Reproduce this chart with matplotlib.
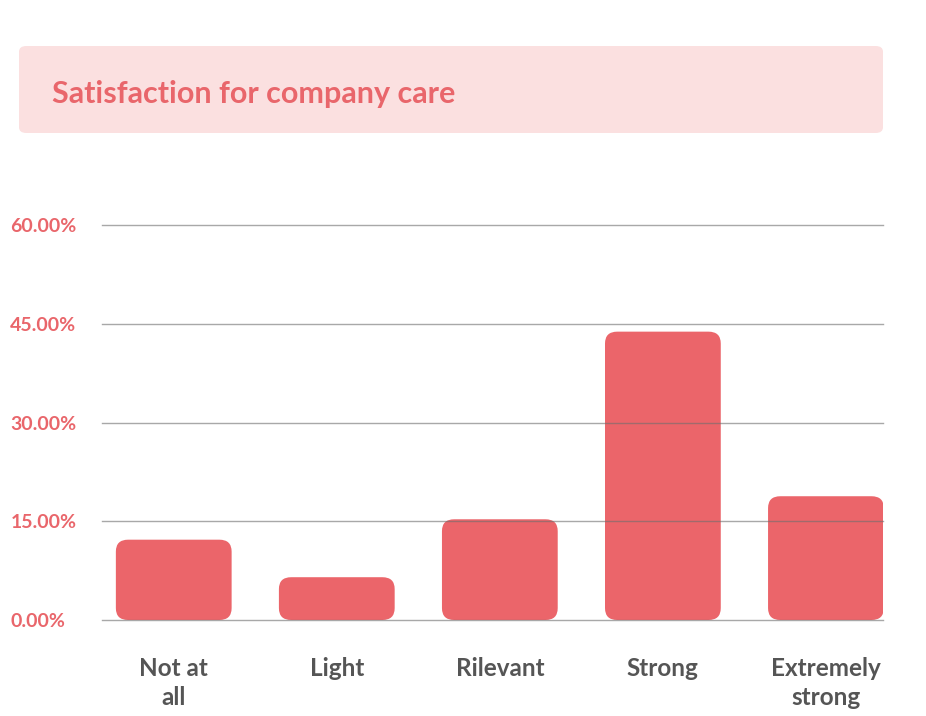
import matplotlib
matplotlib.use('Agg')
import matplotlib.pyplot as plt
from matplotlib.patches import FancyBboxPatch

categories = ['Not at\nall', 'Light', 'Rilevant', 'Strong', 'Extremely\nstrong']
values = [12.2, 6.5, 15.3, 43.8, 18.8]
yticks = [0, 15, 30, 45, 60]
title = 'Satisfaction for company care'

BAR = '#eb656a'
RED_TXT = '#e9666b'
GRAY_TXT = '#555555'

fig = plt.figure(figsize=(9.26, 7.16), dpi=100)
W, H = 926, 716

# title box
box = FancyBboxPatch((19 / W, 1 - 133 / H), (883 - 19) / W, (133 - 46) / H,
                     boxstyle='round,pad=0,rounding_size=0.008',
                     transform=fig.transFigure, facecolor='#fbe0e0',
                     edgecolor='none')
fig.patches.append(box)
fig.text(52 / W, 1 - 94 / H, title, color=RED_TXT, fontsize=22,
         fontweight='bold', family='Lato', va='center', ha='left')

ax = fig.add_axes([102 / W, 96 / H, (883 - 102) / W, (620 - 225) / H])
x = list(range(len(categories)))
bars = ax.bar(x, values, width=0.71, color=BAR)

# swap plain bars for rounded ones
rx = 0.075
ry = 1.8
for b in bars:
    bx, by = b.get_xy()
    p = FancyBboxPatch((bx, by), b.get_width(), b.get_height(),
                       boxstyle='round,pad=0,rounding_size=%f' % rx,
                       mutation_aspect=ry / rx, facecolor=BAR,
                       edgecolor='none', zorder=2)
    b.set_visible(False)
    ax.add_patch(p)

for t in yticks:
    ax.axhline(t, color='#6e6e6e', lw=1, alpha=0.6, zorder=3, clip_on=False)

ax.set_xlim(-0.44, 4.35)
ax.set_ylim(0, 60)
for s in ax.spines.values():
    s.set_visible(False)

ax.set_yticks(yticks)
ax.set_yticklabels(['%.2f%%' % t for t in yticks], color=RED_TXT,
                   fontsize=14, fontweight='bold', family='Lato')
for lab in ax.get_yticklabels():
    lab.set_horizontalalignment('left')
ax.tick_params(axis='y', length=0, pad=66)

ax.set_xticks(x)
ax.set_xticklabels(categories, color=GRAY_TXT, fontsize=17.5,
                   fontweight='bold', family='Lato', linespacing=1.3)
ax.tick_params(axis='x', length=0, pad=27)

fig.savefig('out.png', dpi=100)
